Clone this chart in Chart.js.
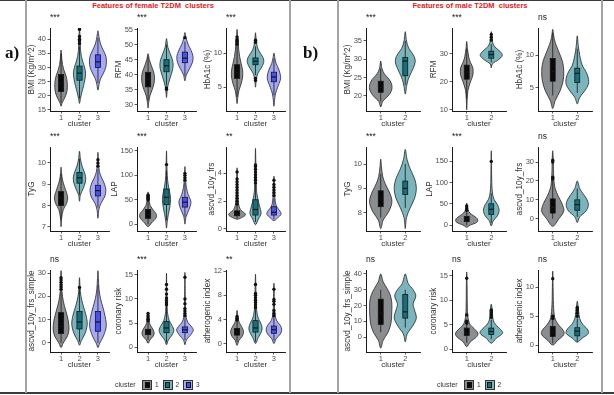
<!DOCTYPE html>
<html>
<head>
<meta charset="utf-8">
<script src="https://cdn.jsdelivr.net/npm/chart.js@4.4.1/dist/chart.umd.min.js"></script>
<style>
  body { margin: 0; background: #fff; }
  #fig { position: relative; width: 614px; height: 395px; overflow: hidden; font-family: "Liberation Sans", Arial, sans-serif; }
  #fig canvas { position: absolute; }
  .rule { position: absolute; background: #a3a3a3; }
  .frame { position: absolute; left: 0; width: 614px; background: #3a3a3a; }
  .panelTitle { position: absolute; top: 1px; width: 240px; text-align: center; color: #e3191c; font-weight: bold; font-size: 7.5px; white-space: pre; }
  .tag { position: absolute; top: 43px; font-family: "Liberation Serif", "DejaVu Serif", serif; font-weight: bold; font-size: 17px; color: #111; }
  .leg { position: absolute; font-size: 7px; color: #333; line-height: 10px; }
  .key { position: absolute; width: 8px; height: 8px; border: 1px solid #333; }
  .key i { position: absolute; left: 1.5px; right: 1.5px; top: 1px; bottom: 1px; border: 1px solid #111; }
</style>
</head>
<body>
<div id="fig"></div>
<script>
const FONT = '"Liberation Sans", Arial, sans-serif';

// ---------- female T2DM, clusters 1-3 ----------
const femaleLabels = ["BMI (Kg/m^2)", "RFM", "HbA1c (%)", "TyG", "LAP", "ascvd_10y_frs",
  "ascvd_10y_frs_simple", "coronary risk", "atherogenic index"];
const femaleSig = ["***", "***", "***", "***", "***", "**", "ns", "***", "**"];
const femaleTicks = [[15, 20, 25, 30, 35, 40], [30, 35, 40, 45, 50, 55], [5, 10], [7, 8, 9, 10],
  [0, 50, 100, 150], [0, 2, 4], [0, 10, 20, 30], [0, 5, 10, 15], [0, 4, 8, 12]];
const femaleLimits = [[14.6, 44], [28, 55.5], [1.5, 13.7], [6.8, 10.75], [-14, 158], [-0.15, 5.9],
  [-3.9, 31.3], [-1, 16], [-1.4, 12.2]];
// violin outlines: [value, half width] from bottom tip to top tip
const femaleViolins = [
  [[[16.3,0],[17.5,0.06],[19,0.18],[21,0.3],[23,0.34],[25,0.33],[27,0.27],[29,0.16],[31,0.08],[33,0.04],[35,0.02],[36.2,0]],
   [[17.3,0],[19,0.05],[21,0.12],[23.5,0.22],[26,0.3],[28,0.33],[30,0.28],[32,0.18],[34,0.1],[36,0.06],[38,0.04],[40,0.03],[42,0.02],[44,0]],
   [[22,0],[24,0.06],[26,0.14],[28,0.3],[30,0.42],[32,0.46],[34,0.43],[36,0.3],[38,0.16],[40,0.08],[42,0.03],[43,0]]],
  [[[29,0],[31,0.04],[33,0.1],[35,0.22],[37,0.32],[39,0.35],[41,0.3],[43,0.18],[45,0.07],[47,0]],
   [[32.5,0],[35,0.04],[37,0.1],[39,0.2],[41,0.3],[43,0.36],[45,0.32],[47,0.2],[49,0.08],[51,0.03],[52,0]],
   [[38,0],[40,0.08],[42,0.25],[44,0.4],[46,0.44],[48,0.34],[50,0.18],[52,0.07],[54,0]]],
  [[[2.6,0],[3.5,0.04],[4.5,0.1],[5.5,0.22],[6.5,0.3],[7.5,0.3],[8.5,0.22],[9.5,0.14],[10.5,0.09],[11.5,0.06],[12.5,0.02],[13.5,0]],
   [[5,0],[6,0.04],[7,0.12],[8,0.35],[8.8,0.45],[9.5,0.38],[10.5,0.15],[11.5,0.06],[12.5,0.02],[13,0]],
   [[2.2,0],[3,0.03],[4,0.08],[5,0.2],[6,0.34],[6.6,0.36],[7.5,0.28],[8.5,0.12],[9.3,0.05],[10,0]]],
  [[[7.0,0],[7.4,0.03],[7.8,0.12],[8.1,0.3],[8.35,0.36],[8.6,0.3],[8.9,0.18],[9.2,0.08],[9.5,0.03],[9.8,0]],
   [[8.2,0],[8.5,0.05],[8.8,0.2],[9.1,0.32],[9.35,0.33],[9.6,0.25],[9.9,0.12],[10.2,0.05],[10.55,0]],
   [[7.4,0],[7.8,0.05],[8.1,0.16],[8.4,0.36],[8.7,0.43],[9.0,0.36],[9.3,0.2],[9.6,0.08],[10.0,0.03],[10.5,0]]],
  [[[-5,0],[3,0.2],[12,0.42],[20,0.45],[28,0.3],[38,0.12],[48,0.06],[58,0.04],[66,0]],
   [[-8,0],[5,0.04],[20,0.1],[35,0.18],[50,0.22],[60,0.2],[75,0.12],[90,0.06],[110,0.03],[130,0.015],[150,0]],
   [[0,0],[15,0.06],[30,0.22],[42,0.32],[50,0.3],[60,0.18],[75,0.08],[90,0.04],[105,0.02],[118,0]]],
  [[[0.7,0],[0.85,0.3],[1.0,0.45],[1.15,0.4],[1.4,0.18],[1.8,0.08],[2.3,0.05],[3,0.03],[3.8,0.02],[4.4,0]],
   [[0.3,0],[0.7,0.15],[1.1,0.3],[1.5,0.25],[2.0,0.15],[2.5,0.08],[3.0,0.05],[4,0.03],[5,0.015],[5.8,0]],
   [[0.6,0],[0.8,0.2],[1.05,0.38],[1.3,0.32],[1.6,0.15],[2.0,0.07],[2.6,0.04],[3.2,0.02],[3.8,0]]],
  [[[-2,0],[0,0.12],[3,0.35],[6,0.43],[10,0.38],[14,0.25],[18,0.12],[22,0.05],[26,0.03],[31,0]],
   [[-1,0],[1,0.1],[4,0.3],[8,0.42],[12,0.35],[16,0.2],[20,0.08],[24,0.03],[28,0]],
   [[-2,0],[0,0.1],[3,0.3],[7,0.45],[11,0.4],[15,0.28],[19,0.14],[23,0.06],[27,0.03],[31,0]]],
  [[[0.8,0],[1.5,0.1],[2.3,0.28],[3,0.33],[3.8,0.25],[4.6,0.12],[5.5,0.05],[6.5,0.03],[7.3,0]],
   [[0.5,0],[1.5,0.1],[2.5,0.3],[3.5,0.4],[4.5,0.3],[5.5,0.15],[7,0.06],[9,0.03],[12,0.015],[15.3,0]],
   [[0.5,0],[1.5,0.08],[2.5,0.3],[3.5,0.45],[4.3,0.35],[5.2,0.15],[6.5,0.05],[8,0.03],[11,0.015],[15.5,0]]],
  [[[-0.3,0],[0.5,0.1],[1.2,0.28],[2,0.35],[2.8,0.25],[3.5,0.12],[4.3,0.05],[5.5,0]],
   [[0,0],[1,0.15],[2,0.33],[2.8,0.35],[3.6,0.25],[4.5,0.12],[6,0.05],[8,0.03],[10,0.015],[11.5,0]],
   [[0,0],[0.8,0.12],[1.6,0.35],[2.3,0.42],[3.0,0.35],[3.8,0.15],[5,0.05],[7,0.025],[10,0]]]
];
// boxes: [lower whisker, q1, median, q3, upper whisker]
const femaleBoxes = [
  [[17.5, 21.5, 24.5, 27.5, 35], [19, 25.5, 28, 30.5, 37.5], [24.5, 30, 32, 34.5, 40.5]],
  [[31.5, 36, 38.5, 40.8, 46], [36.5, 41, 43, 45, 50], [39.5, 44, 45.5, 47.5, 51]],
  [[3.6, 6.3, 7.1, 8.3, 11.1], [6.8, 8.3, 8.8, 9.3, 11], [3.8, 5.8, 6.5, 7.2, 9.2]],
  [[7.3, 8.0, 8.35, 8.65, 9.5], [8.5, 9.05, 9.3, 9.55, 10.2], [7.9, 8.45, 8.7, 8.95, 9.7]],
  [[0, 12, 20, 30, 48], [8, 40, 55, 72, 110], [15, 35, 45, 55, 85]],
  [[0.75, 0.95, 1.05, 1.3, 1.7], [0.5, 1.0, 1.4, 2.1, 3.2], [0.7, 1.0, 1.2, 1.6, 2.2]],
  [[0, 4, 7, 13, 22], [0.5, 6, 9, 13.5, 23], [0, 5, 9, 13.5, 25]],
  [[1.5, 2.6, 3.1, 3.7, 5.3], [1, 3.0, 4.0, 5.3, 8.5], [1.5, 3.0, 3.6, 4.2, 6.0]],
  [[0.3, 1.4, 1.9, 2.5, 3.8], [0.3, 1.9, 2.6, 3.8, 5.8], [0.5, 1.7, 2.3, 2.9, 4.3]]
];
const femaleOutliers = [
  [[], [38.5, 39.5, 40, 41, 43.5], []],
  [[], [35.2, 35.6], [52.3]],
  [[11.3, 11.5, 11.7, 11.9, 12.1, 12.4], [6.0, 6.3, 11.6, 11.9], []],
  [[], [], [9.85, 10.0, 10.15]],
  [[50, 52, 54, 56, 58, 60], [122], [90, 95, 100, 104]],
  [[1.8, 2.0, 2.2, 2.4, 2.6, 2.8, 3.0, 3.2, 3.4, 3.6, 4.1], [3.3, 3.5, 3.7, 3.9, 4.1, 4.3, 4.5, 4.6], [2.4, 2.6, 2.8, 3.0, 3.2, 3.5]],
  [[23, 24, 25, 26, 27, 28], [23.8], []],
  [[5.5, 5.8, 6.1, 6.5, 7.0], [8.8, 9.2, 9.7, 10.2, 11, 12, 13], [6.5, 7, 7.5, 8, 9, 10, 14.5]],
  [[3.9, 4.2, 4.5], [6, 6.4, 6.8, 7.2, 7.6, 8, 8.3, 9.8], [4.6, 5, 5.5, 6.5, 7, 7.3, 9]]
];

// ---------- male T2DM, clusters 1-2 ----------
const maleLabels = femaleLabels;
const maleSig = ["***", "***", "ns", "***", "***", "ns", "ns", "ns", "ns"];
const maleTicks = [[20, 25, 30, 35], [10, 20, 30], [5, 10], [8, 9, 10], [0, 50, 100, 150],
  [0, 10, 20, 30], [0, 10, 20, 30, 40], [0, 5, 10, 15], [0, 5, 10]];
const maleLimits = [[15.9, 38.5], [9.6, 39.3], [1.4, 14.2], [7.25, 10.7], [-14, 184], [-6.5, 38],
  [-9.5, 42.5], [-0.6, 16.2], [-1.2, 13]];
const maleViolins = [
  [[[17,0],[18.5,0.08],[20,0.3],[21.5,0.44],[23,0.45],[24.5,0.35],[26,0.15],[27.5,0.05],[29.5,0]],
   [[20.5,0],[22.5,0.05],[24.5,0.12],[26.5,0.25],[28.5,0.38],[30,0.4],[31.5,0.3],[33,0.14],[35,0.05],[37.5,0]]],
  [[[10,0],[14,0.02],[17,0.05],[20,0.15],[22.5,0.25],[25,0.25],[27,0.15],[29,0.08],[32,0.03],[34.5,0]],
   [[25,0],[26.5,0.05],[28,0.3],[29.5,0.45],[31,0.35],[32.5,0.15],[34,0.06],[36,0.03],[38,0]]],
  [[[1.8,0],[3,0.1],[4.5,0.3],[6,0.42],[7.5,0.45],[9,0.4],[10.5,0.25],[12,0.1],[13,0.04],[14,0]],
   [[2.5,0],[3.5,0.1],[4.5,0.3],[5.5,0.45],[6.5,0.45],[7.5,0.35],[8.5,0.2],[10,0.1],[11.5,0.04],[13,0]]],
  [[[7.35,0],[7.7,0.1],[8.0,0.3],[8.3,0.43],[8.55,0.45],[8.85,0.35],[9.2,0.18],[9.5,0.08],[9.9,0.03],[10.2,0]],
   [[7.35,0],[7.8,0.05],[8.2,0.2],[8.6,0.38],[9.0,0.45],[9.4,0.38],[9.8,0.2],[10.2,0.07],[10.6,0]]],
  [[[-5,0],[0,0.15],[6,0.4],[12,0.45],[18,0.38],[25,0.2],[32,0.08],[42,0.03],[52,0]],
   [[-2,0],[10,0.08],[22,0.25],[35,0.32],[48,0.25],[60,0.12],[75,0.05],[100,0.02],[140,0.01],[175,0]]],
  [[[-4,0],[0,0.25],[4,0.45],[8,0.38],[12,0.22],[16,0.1],[20,0.05],[26,0.03],[32,0.02],[36,0]],
   [[-2,0],[1,0.1],[4,0.35],[7,0.45],[10,0.4],[13,0.25],[16,0.1],[20,0]]],
  [[[-7,0],[-2,0.1],[3,0.3],[9,0.42],[16,0.45],[22,0.45],[27,0.38],[31,0.25],[35,0.1],[40,0]],
   [[-3,0],[2,0.08],[7,0.3],[12,0.45],[17,0.38],[21,0.32],[26,0.43],[30,0.32],[34,0.12],[40,0]]],
  [[[0.5,0],[1.5,0.15],[2.5,0.4],[3.3,0.45],[4.2,0.3],[5.2,0.12],[7,0.04],[10,0.02],[13,0.015],[15.8,0]],
   [[1.2,0],[2.2,0.2],[3.0,0.42],[3.6,0.45],[4.4,0.3],[5.4,0.12],[6.5,0.06],[8,0.04],[9.2,0]]],
  [[[0,0],[0.8,0.2],[1.8,0.45],[2.6,0.42],[3.6,0.22],[4.8,0.08],[7,0.03],[10,0.015],[12.8,0]],
   [[0.5,0],[1.2,0.2],[2,0.45],[2.8,0.4],[3.6,0.22],[4.6,0.1],[6,0.05],[7.6,0]]]
];
const maleBoxes = [
  [[18.5, 21, 22.3, 24, 27.5], [23, 25.5, 29.5, 30.5, 35]],
  [[14, 21, 23.5, 26, 32], [27, 28.5, 29.8, 31, 33.5]],
  [[3.8, 6, 7.5, 9.5, 13.5], [4.2, 5.8, 7.2, 8, 11]],
  [[7.8, 8.25, 8.6, 8.9, 9.6], [8.2, 8.75, 9.0, 9.3, 10]],
  [[0, 8, 14, 20, 32], [5, 25, 37, 50, 75]],
  [[0, 3, 6, 10.5, 20], [1, 4.5, 7.5, 10, 16]],
  [[3, 8, 15, 24, 30], [6, 12, 16, 27, 30]],
  [[1.3, 2.8, 3.3, 4.3, 5.0], [2, 3, 3.6, 4.3, 6]],
  [[0.3, 1.5, 2.2, 3.2, 4.4], [0.6, 1.6, 2.4, 3.0, 4.6]]
];
const maleOutliers = [
  [[], []],
  [[], [35, 36, 37]],
  [[], []],
  [[], []],
  [[35, 40, 45], [150]],
  [[21, 22, 30, 31], []],
  [[], []],
  [[5.3, 5.7, 7, 14.5], [6.5, 7, 7.4, 7.8, 8]],
  [[4.6, 5, 11.5], [5, 5.5, 6, 6.3, 6.5]]
];

// ---------- styling ----------
const violinFill = ["#8b8e90", "#7ab4bc", "#a6a9f4"];
const boxFill = ["#0a0a0a", "#16707c", "#4a4ff0"];
const rowTops = [28, 147, 270];
const rowBottoms = [111, 231, 352];
const TICK_FONT = 7.5, TITLE_FONT = 8.2;

const panels = [
  { labels: femaleLabels, sig: femaleSig, ticks: femaleTicks, limits: femaleLimits,
    violins: femaleViolins, boxes: femaleBoxes, outliers: femaleOutliers,
    n: 3, cols: [50, 137, 226], width: 59, boxHalf: 0.14 },
  { labels: maleLabels, sig: maleSig, ticks: maleTicks, limits: maleLimits,
    violins: maleViolins, boxes: maleBoxes, outliers: maleOutliers,
    n: 2, cols: [366, 452, 538], width: 54, boxHalf: 0.1 }
];

Chart.defaults.font.family = FONT;
Chart.defaults.color = "#4d4d4d";

const fig = document.getElementById("fig");

function closedCurve(ctx, pts) {
  const n = pts.length;
  ctx.moveTo(pts[0][0], pts[0][1]);
  for (let i = 0; i < n; i++) {
    const p0 = pts[(i - 1 + n) % n], p1 = pts[i], p2 = pts[(i + 1) % n], p3 = pts[(i + 2) % n];
    ctx.bezierCurveTo(
      p1[0] + (p2[0] - p0[0]) / 6, p1[1] + (p2[1] - p0[1]) / 6,
      p2[0] - (p3[0] - p1[0]) / 6, p2[1] - (p3[1] - p1[1]) / 6,
      p2[0], p2[1]);
  }
  ctx.closePath();
}

// violins + boxes + texts, drawn through the chart's own scales
function violinLayer(panel, k) {
  return {
    id: "violins" + k,
    beforeDatasetsDraw(chart) {
      const { ctx, scales: { x, y } } = chart;
      ctx.save();
      panel.violins[k].forEach((prof, i) => {
        const c = i + 1;
        const right = prof.map(([v, w]) => [x.getPixelForValue(c + w), y.getPixelForValue(v)]);
        const left = prof.slice(1, -1).reverse().map(([v, w]) => [x.getPixelForValue(c - w), y.getPixelForValue(v)]);
        ctx.beginPath();
        closedCurve(ctx, right.concat(left));
        ctx.fillStyle = violinFill[i];
        ctx.fill();
        ctx.lineWidth = 0.8;
        ctx.strokeStyle = "#262626";
        ctx.stroke();
      });
      ctx.restore();
    },
    afterDatasetsDraw(chart) {
      const { ctx, scales: { x, y } } = chart;
      ctx.save();
      panel.boxes[k].forEach(([lo, q1, med, q3, hi], i) => {
        const cx = x.getPixelForValue(i + 1);
        const hw = x.getPixelForValue(i + 1 + panel.boxHalf) - cx;
        ctx.strokeStyle = "#151515";
        ctx.lineWidth = 0.8;
        ctx.beginPath();
        ctx.moveTo(cx, y.getPixelForValue(lo)); ctx.lineTo(cx, y.getPixelForValue(q1));
        ctx.moveTo(cx, y.getPixelForValue(q3)); ctx.lineTo(cx, y.getPixelForValue(hi));
        ctx.stroke();
        const top = y.getPixelForValue(q3), bot = y.getPixelForValue(q1);
        ctx.fillStyle = boxFill[i];
        ctx.fillRect(cx - hw, top, 2 * hw, bot - top);
        ctx.strokeRect(cx - hw, top, 2 * hw, bot - top);
        ctx.lineWidth = 1.2;
        ctx.beginPath();
        ctx.moveTo(cx - hw, y.getPixelForValue(med)); ctx.lineTo(cx + hw, y.getPixelForValue(med));
        ctx.stroke();
      });
      ctx.restore();
    },
    afterDraw(chart) {
      const { ctx, chartArea } = chart;
      ctx.save();
      // significance label over the panel
      ctx.font = "8.5px " + FONT;
      ctx.fillStyle = "#222";
      ctx.fillText(panel.sig[k], chartArea.left, chartArea.top - 8);
      // y title, placed just left of the widest tick label
      ctx.font = TICK_FONT + "px " + FONT;
      const widest = Math.max(...panel.ticks[k].map((v) => ctx.measureText(String(v)).width));
      const tx = chartArea.left - 2.5 - 1.5 - widest - 1.5 - TITLE_FONT * 0.5;
      ctx.translate(tx, (chartArea.top + chartArea.bottom) / 2);
      ctx.rotate(-Math.PI / 2);
      ctx.font = TITLE_FONT + "px " + FONT;
      ctx.fillStyle = "#333";
      ctx.textAlign = "center";
      ctx.textBaseline = "middle";
      ctx.fillText(panel.labels[k], 0, 0);
      ctx.restore();
    }
  };
}

function axisStyle(extra) {
  return Object.assign({
    grid: { display: true, drawOnChartArea: false, drawTicks: true, tickLength: 2.5, color: "#333", lineWidth: 0.8 },
    border: { display: true, color: "#1a1a1a", width: 1 },
  }, extra);
}

function makePlot(panel, k) {
  const col = k % 3, row = Math.floor(k / 3);
  const L = 44, T = 18, R = 6, XH = 18, B = 4;
  const pw = panel.width, ph = rowBottoms[row] - rowTops[row];
  const cv = document.createElement("canvas");
  cv.width = L + pw + R;
  cv.height = T + ph + XH + B;
  cv.style.left = (panel.cols[col] - L) + "px";
  cv.style.top = (rowTops[row] - T) + "px";
  fig.appendChild(cv);

  const cats = Array.from({ length: panel.n }, (_, i) => i + 1);
  new Chart(cv, {
    type: "scatter",
    data: {
      datasets: panel.outliers[k].map((ys, i) => ({
        data: ys.map((v) => ({ x: cats[i], y: v })),
        pointRadius: 1.7,
        pointBackgroundColor: "#111",
        pointBorderWidth: 0,
      })),
    },
    options: {
      responsive: false,
      animation: false,
      events: [],
      layout: { autoPadding: false, padding: { left: 0, right: R, top: T, bottom: B } },
      plugins: { legend: { display: false }, tooltip: { enabled: false } },
      scales: {
        x: axisStyle({
          type: "linear",
          min: 0.4,
          max: panel.n + 0.6,
          afterBuildTicks: (s) => { s.ticks = cats.map((v) => ({ value: v })); },
          afterFit: (s) => { s.height = XH; },
          ticks: { font: { size: TICK_FONT }, color: "#4d4d4d", padding: 0, maxRotation: 0, autoSkip: false },
          title: { display: true, text: "cluster", font: { size: 8 }, color: "#333", padding: { top: 0, bottom: 0 } },
        }),
        y: axisStyle({
          type: "linear",
          min: panel.limits[k][0],
          max: panel.limits[k][1],
          afterBuildTicks: (s) => { s.ticks = panel.ticks[k].map((v) => ({ value: v })); },
          afterFit: (s) => { s.width = L; },
          ticks: { font: { size: TICK_FONT }, color: "#4d4d4d", padding: 1.5, autoSkip: false },
        }),
      },
    },
    plugins: [violinLayer(panel, k)],
  });
}

panels.forEach((p) => { for (let k = 0; k < 9; k++) makePlot(p, k); });

// frame, titles, tags, legends
function addDiv(cls, css, html) {
  const d = document.createElement("div");
  d.className = cls;
  Object.assign(d.style, css);
  if (html !== undefined) d.innerHTML = html;
  fig.appendChild(d);
  return d;
}
addDiv("frame", { top: "0px", height: "1px" });
addDiv("frame", { top: "392px", height: "2px" });
[25, 289, 337, 601].forEach((x) => addDiv("rule", { left: x + "px", top: "0px", width: "2px", height: "393px" }));
addDiv("panelTitle", { left: (153 - 120) + "px" }, "Features of female T2DM  clusters");
addDiv("panelTitle", { left: (470 - 120) + "px" }, "Features of male T2DM  clusters");
addDiv("tag", { left: "5px" }, "a)");
addDiv("tag", { left: "303px" }, "b)");

function legend(x0, n) {
  addDiv("leg", { left: x0 + "px", top: "380px" }, "cluster");
  for (let i = 0; i < n; i++) {
    const kx = x0 + 27 + i * 20.5;
    const key = addDiv("key", { left: kx + "px", top: "380px", background: violinFill[i] }, "<i></i>");
    key.firstChild.style.background = boxFill[i];
    addDiv("leg", { left: (kx + 13) + "px", top: "380px", fontSize: "6.5px" }, String(i + 1));
  }
}
legend(115, 3);
legend(437, 2);
</script>
</body>
</html>
